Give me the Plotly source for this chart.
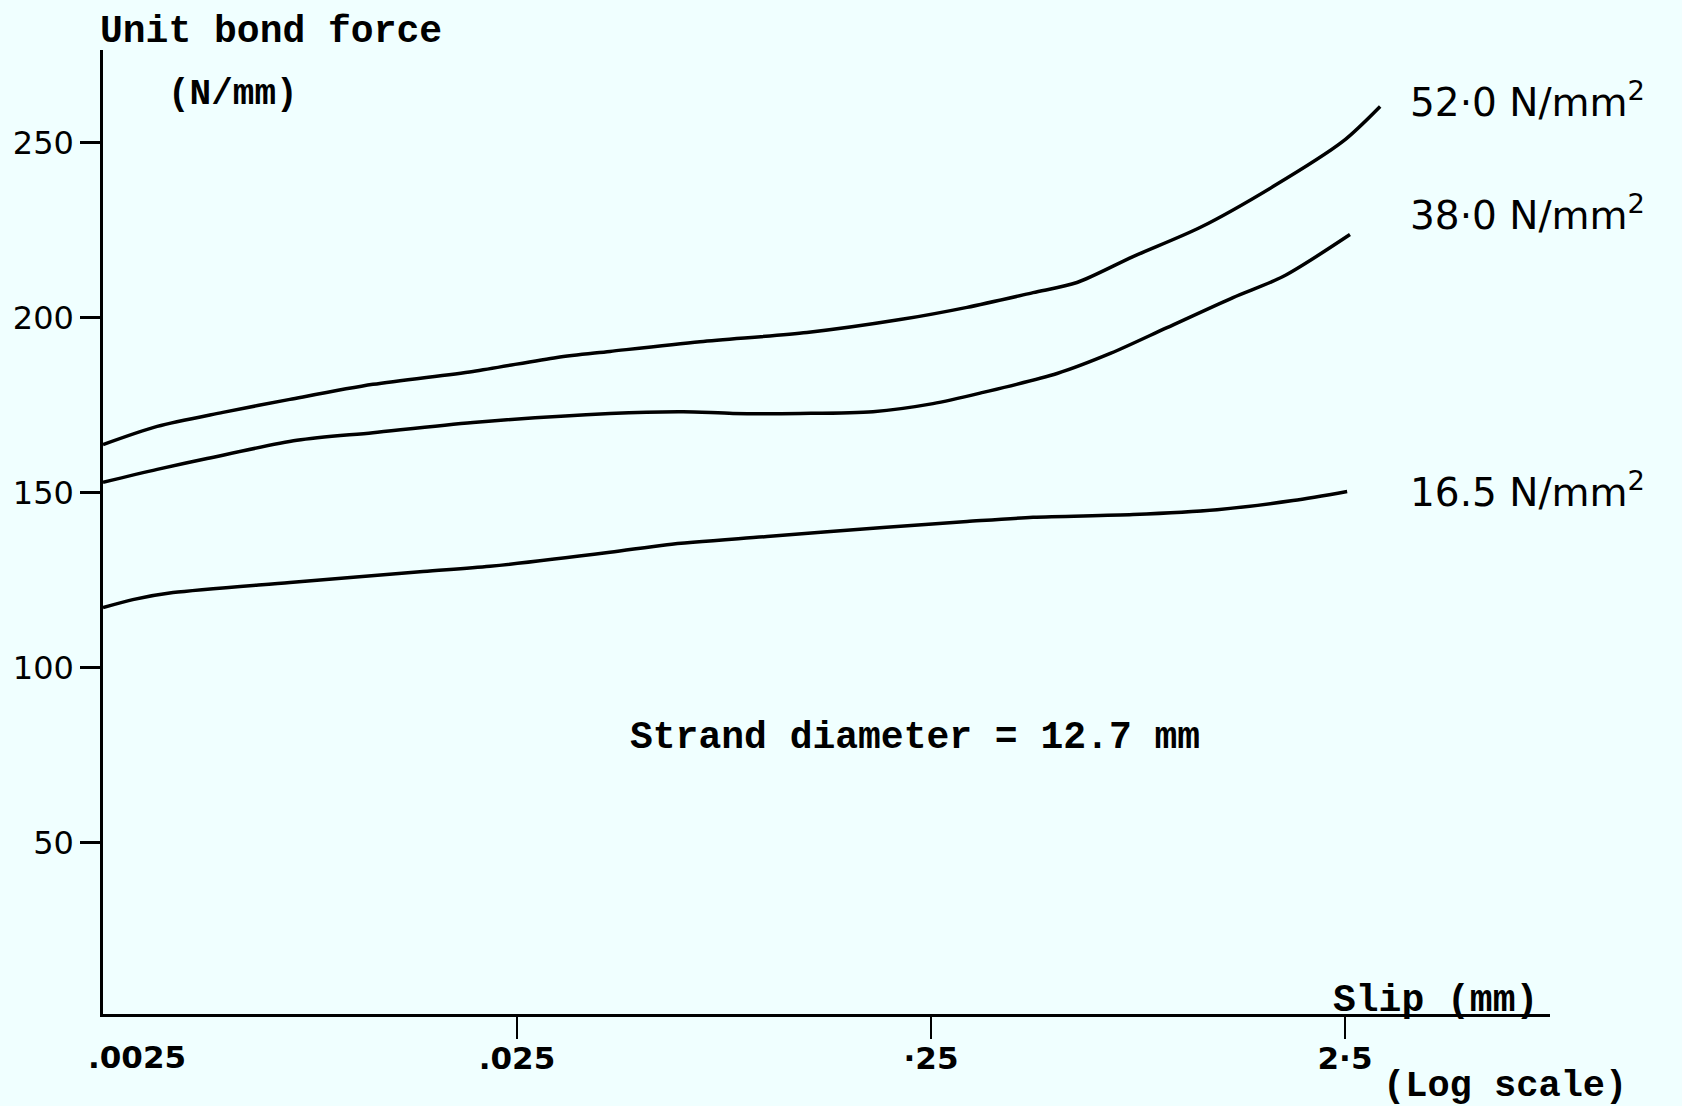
import math
import plotly.graph_objects as go

# ---- data (slip in mm, unit bond force in N/mm) ----
slip_52 = [0.0025, 0.00338, 0.00487, 0.00707, 0.01122, 0.01957, 0.03122, 0.04192,
           0.0692, 0.1254, 0.2105, 0.3055, 0.441, 0.563, 0.769, 1.116, 1.675, 2.47, 3.04]
force_52 = [163.7, 168.9, 172.9, 176.6, 180.9, 184.6, 188.6, 190.3,
            193.1, 195.7, 199.4, 202.9, 207.1, 210.0, 217.4, 225.7, 237.4, 250.3, 260.3]

slip_38 = [0.0025, 0.00338, 0.00446, 0.00735, 0.01122, 0.01957, 0.04192, 0.0630,
           0.0831, 0.1207, 0.1810, 0.2528, 0.334, 0.504, 0.680, 0.929, 1.341, 1.771, 2.57]
force_38 = [152.9, 156.6, 159.7, 164.9, 167.1, 170.0, 172.6, 173.1,
            172.6, 172.6, 173.1, 175.4, 178.6, 184.0, 189.8, 197.1, 205.7, 211.7, 223.7]

slip_16 = [0.0025, 0.00295, 0.00369, 0.00707, 0.01482, 0.02151, 0.04192, 0.0576,
           0.1004, 0.1914, 0.3055, 0.441, 0.769, 1.227, 1.872, 2.53]
force_16 = [117.1, 119.4, 121.4, 124.3, 127.4, 128.9, 132.9, 135.1,
            137.4, 140.0, 141.7, 142.9, 143.7, 145.1, 147.7, 150.3]

series_names = ["52·0 N/mm<sup>2</sup>", "38·0 N/mm<sup>2</sup>", "16.5 N/mm<sup>2</sup>"]

y_tickvals = [50, 100, 150, 200, 250]
y_ticktext = ["50", "100", "150", "200", "250"]
x_tickvals = [0.025, 0.25, 2.5]
x_ticktext = [".025", "·25", "2·5"]
x_first_label = ".0025"
x_min = 0.0025

# ---- layout geometry ----
W, H = 1682, 1106
L, R, T, B = 103, 132, 50, 92
PW = W - L - R
PH = H - T - B
DECADE_PX = 414.0
Y_PX_PER_UNIT = 3.5
x_lo = math.log10(x_min)
x_hi = x_lo + PW / DECADE_PX
y_lo = 1.0
y_hi = y_lo + PH / Y_PX_PER_UNIT


def px(xp):
    return (xp - L) / PW


def py(yp):
    return (H - B - yp) / PH


BG = "#F0FFFF"
INK = "#000000"
MONO = "Liberation Mono, Courier New, monospace"
HAND = "DejaVu Sans, sans-serif"

fig = go.Figure()
for xs, ys, nm in [(slip_52, force_52, series_names[0]),
                   (slip_38, force_38, series_names[1]),
                   (slip_16, force_16, series_names[2])]:
    fig.add_trace(go.Scatter(x=xs, y=ys, mode="lines", name=nm,
                             line=dict(color=INK, width=3.5, shape="spline", smoothing=0.8),
                             showlegend=False, hoverinfo="skip"))

annots = []
# axis titles / notes (typewriter)
annots.append(dict(text="Unit bond force", x=px(98), y=py(31), xanchor="left", yanchor="middle",
                   font=dict(family=MONO, size=38, color=INK, weight="bold")))
annots.append(dict(text="(N/mm)", x=px(166), y=py(95), xanchor="left", yanchor="middle",
                   font=dict(family=MONO, size=36, color=INK, weight="bold")))
annots.append(dict(text="Strand diameter = 12.7 mm", x=px(628), y=py(737), xanchor="left",
                   yanchor="middle", font=dict(family=MONO, size=38, color=INK, weight="bold")))
annots.append(dict(text="Slip (mm)", x=px(1331), y=py(1000), xanchor="left", yanchor="middle",
                   font=dict(family=MONO, size=38, color=INK, weight="bold")))
annots.append(dict(text="(Log scale)", x=px(1381), y=py(1086), xanchor="left", yanchor="middle",
                   font=dict(family=MONO, size=37, color=INK, weight="bold")))
# first x tick label (offset right of the y axis as in the drawing)
annots.append(dict(text=x_first_label, x=px(137), y=py(1057), xanchor="center", yanchor="middle",
                   font=dict(family=HAND, size=31, color=INK, weight="bold")))
# curve labels
for nm, yc in zip(series_names, [100, 213, 490]):
    annots.append(dict(text=nm, x=px(1408), y=py(yc), xanchor="left", yanchor="middle",
                       font=dict(family=HAND, size=39, color=INK)))

for a in annots:
    a.update(xref="paper", yref="paper", showarrow=False)

fig.update_layout(
    width=W, height=H,
    margin=dict(l=L, r=R, t=T, b=B, pad=0),
    paper_bgcolor=BG, plot_bgcolor=BG,
    annotations=annots,
    xaxis=dict(type="log", range=[x_lo, x_hi], showgrid=False, zeroline=False,
               showline=True, linecolor=INK, linewidth=3,
               tickmode="array", tickvals=x_tickvals, ticktext=x_ticktext,
               ticks="outside", ticklen=22, tickwidth=2, tickcolor=INK,
               ticklabelstandoff=-7,
               tickfont=dict(family=HAND, size=31, color=INK, weight="bold")),
    yaxis=dict(range=[y_lo, y_hi], showgrid=False, zeroline=False,
               showline=True, linecolor=INK, linewidth=2.5,
               tickmode="array", tickvals=y_tickvals, ticktext=y_ticktext,
               ticks="outside", ticklen=20, tickwidth=2.5, tickcolor=INK,
               tickfont=dict(family=HAND, size=32, color=INK)),
)

fig.write_html("out.html")
